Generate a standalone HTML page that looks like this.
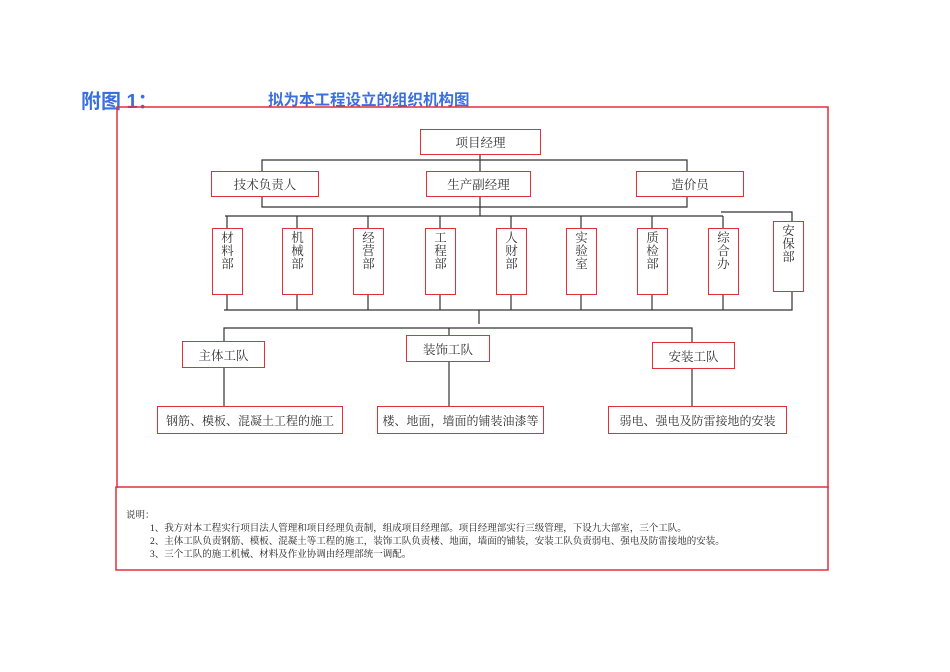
<!DOCTYPE html>
<html><head><meta charset="utf-8"><style>
body{margin:0;width:950px;height:672px;background:#fff;position:relative;overflow:hidden;font-family:"Liberation Serif","Noto Serif CJK SC",serif;}
.b{position:absolute;border:1.5px solid #e0303a;box-sizing:border-box;background:#fff;color:#333;font-size:12.5px;display:flex;align-items:center;justify-content:center;white-space:nowrap;}
.v{display:block;text-align:center;padding-top:3px;line-height:13px;font-size:12.5px;}
.t{position:absolute;color:#3b6fe0;font-weight:bold;font-family:"Liberation Sans","Noto Sans CJK SC",sans-serif;}
.n{position:absolute;font-size:9.5px;color:#222;white-space:nowrap;}
</style></head><body>
<div class="t" style="left:81px;top:85px;font-size:20px;">附图 1：</div>
<div class="t" style="left:268px;top:88px;font-size:15.5px;">拟为本工程设立的组织机构图</div>
<svg width="950" height="672" style="position:absolute;left:0;top:0">
<g fill="none" stroke="#e0303a" stroke-width="1.5">
<polyline points="117,488 117,107 828,107 828,488"/>
<rect x="116" y="487" width="712" height="83"/>
</g>
<g fill="none" stroke="#333" stroke-width="1.2">
<line x1="480" y1="155" x2="480" y2="216"/>
<polyline points="262,171 262,160 687,160 687,207 262,207 262,197"/>
<line x1="225" y1="216" x2="723" y2="216"/>
<line x1="227" y1="216" x2="227" y2="228"/><line x1="297" y1="216" x2="297" y2="228"/><line x1="368" y1="216" x2="368" y2="228"/><line x1="440" y1="216" x2="440" y2="228"/><line x1="511" y1="216" x2="511" y2="228"/><line x1="581" y1="216" x2="581" y2="228"/><line x1="652" y1="216" x2="652" y2="228"/><line x1="723" y1="216" x2="723" y2="228"/>
<polyline points="721,212 792,212 792,221"/>
<line x1="227" y1="295" x2="227" y2="310"/><line x1="297" y1="295" x2="297" y2="310"/><line x1="368" y1="295" x2="368" y2="310"/><line x1="440" y1="295" x2="440" y2="310"/><line x1="511" y1="295" x2="511" y2="310"/><line x1="581" y1="295" x2="581" y2="310"/><line x1="652" y1="295" x2="652" y2="310"/><line x1="723" y1="295" x2="723" y2="310"/>
<polyline points="792,292 792,310 224,310"/>
<line x1="479" y1="310" x2="479" y2="324"/>
<polyline points="224,341 224,328 692,328 692,342"/>
<line x1="449" y1="328" x2="449" y2="335"/>
<line x1="224" y1="368" x2="224" y2="406"/><line x1="449" y1="362" x2="449" y2="406"/><line x1="692" y1="369" x2="692" y2="406"/>
</g></svg>
<div class="b" style="left:420px;top:129px;width:121px;height:26px;">项目经理</div>
<div class="b" style="left:211px;top:171px;width:108px;height:26px;">技术负责人</div>
<div class="b" style="left:426px;top:171px;width:105px;height:26px;">生产副经理</div>
<div class="b" style="left:636px;top:171px;width:108px;height:26px;">造价员</div>
<div class="b v" style="left:212px;top:228px;width:31px;height:67px;">材<br>料<br>部</div>
<div class="b v" style="left:282px;top:228px;width:31px;height:67px;">机<br>械<br>部</div>
<div class="b v" style="left:353px;top:228px;width:31px;height:67px;">经<br>营<br>部</div>
<div class="b v" style="left:425px;top:228px;width:31px;height:67px;">工<br>程<br>部</div>
<div class="b v" style="left:496px;top:228px;width:31px;height:67px;">人<br>财<br>部</div>
<div class="b v" style="left:566px;top:228px;width:31px;height:67px;">实<br>验<br>室</div>
<div class="b v" style="left:637px;top:228px;width:31px;height:67px;">质<br>检<br>部</div>
<div class="b v" style="left:708px;top:228px;width:31px;height:67px;">综<br>合<br>办</div>
<div class="b v" style="left:773px;top:221px;width:31px;height:71px;">安<br>保<br>部</div>
<div class="b" style="left:182px;top:341px;width:83px;height:27px;">主体工队</div>
<div class="b" style="left:406px;top:335px;width:84px;height:27px;">装饰工队</div>
<div class="b" style="left:652px;top:342px;width:83px;height:27px;">安装工队</div>
<div class="b" style="left:157px;top:406px;width:186px;height:28px;font-size:12px;">钢筋、模板、混凝土工程的施工</div>
<div class="b" style="left:377px;top:406px;width:167px;height:28px;font-size:12px;">楼、地面，墙面的铺装油漆等</div>
<div class="b" style="left:608px;top:406px;width:179px;height:28px;font-size:12px;">弱电、强电及防雷接地的安装</div>
<div class="n" style="left:126px;top:507px;">说明：</div>
<div class="n" style="left:150px;top:520px;">1、我方对本工程实行项目法人管理和项目经理负责制，组成项目经理部。项目经理部实行三级管理，下设九大部室，三个工队。</div>
<div class="n" style="left:150px;top:533px;">2、主体工队负责钢筋、模板、混凝土等工程的施工，装饰工队负责楼、地面，墙面的铺装，安装工队负责弱电、强电及防雷接地的安装。</div>
<div class="n" style="left:150px;top:546px;">3、三个工队的施工机械、材料及作业协调由经理部统一调配。</div>
</body></html>
